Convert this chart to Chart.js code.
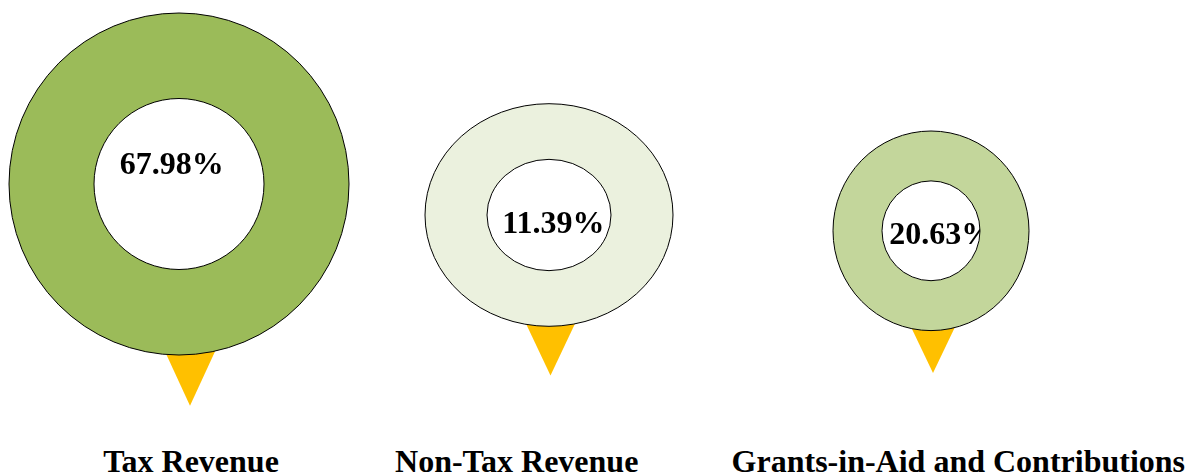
<!DOCTYPE html>
<html>
<head>
<meta charset="utf-8">
<script src="https://cdn.jsdelivr.net/npm/chart.js@4/dist/chart.umd.min.js"></script>
<style>
  html, body { margin: 0; padding: 0; background: #fff; }
  #stage { position: relative; width: 1190px; height: 475px; overflow: hidden; }
  #stage canvas { position: absolute; }
  .lbl {
    position: absolute; width: 600px; text-align: center; white-space: nowrap;
    font: bold 32px "Liberation Serif", "Times New Roman", serif; line-height: 32px; color: #000;
  }
</style>
</head>
<body>
<div id="stage"></div>
<script>
// revenue composition, share of total (%)
const categories = ['Tax Revenue', 'Non-Tax Revenue', 'Grants-in-Aid and Contributions'];
const shares = [67.98, 11.39, 20.63];

const ringColors = ['#9BBB59', '#EBF1DE', '#C3D69B'];
const pinColor = '#FFC000';
const FONT = 'bold 32px "Liberation Serif", "Times New Roman", serif';

// layout of each ring: centre, radii, text offset, pin under the ring
const rings = [
  { cx: 179,   cy: 184.3, rx: 170, ry: 171,   tx: -7.3, ty: -10.3, pinDx: 11,  pinHw: 23.4, pinDepth: 50.7, labelX: 191 },
  { cx: 549.3, cy: 215.3, rx: 124, ry: 111.3, tx: 4.4,  ty: 18,    pinDx: 1.5, pinHw: 23.3, pinDepth: 49.3, labelX: 516.7 },
  { cx: 931.2, cy: 231.2, rx: 98,  ry: 99.8,  tx: 10.3, ty: 12.8,  pinDx: 2,   pinHw: 20.3, pinDepth: 42.3, labelX: 958.3 },
];

const stage = document.getElementById('stage');

// squashes the round doughnut into an ellipse, adds pin, value text and outline
const ringPlugin = {
  id: 'ring',
  beforeDatasetsDraw(chart, args, opts) {
    const arc = chart.getDatasetMeta(0).data[0];
    const { ctx } = chart;
    const r = opts.ring;
    const yb = arc.y + r.ry;
    const k = (r.pinDepth + 14) / r.pinDepth;
    ctx.save();
    ctx.fillStyle = pinColor;
    ctx.beginPath();
    ctx.moveTo(arc.x + r.pinDx - r.pinHw * k, yb - 14);
    ctx.lineTo(arc.x + r.pinDx + r.pinHw * k, yb - 14);
    ctx.lineTo(arc.x + r.pinDx, yb + r.pinDepth);
    ctx.closePath();
    ctx.fill();
    ctx.fillStyle = '#000';
    ctx.font = FONT;
    ctx.textAlign = 'center';
    ctx.textBaseline = 'alphabetic';
    ctx.fillText(opts.text, arc.x + r.tx, arc.y + r.ty);
    ctx.restore();
  },
  beforeDatasetDraw(chart, args, opts) {
    const arc = chart.getDatasetMeta(0).data[0];
    const { ctx } = chart;
    const sy = opts.ring.ry / arc.outerRadius;
    ctx.save();
    ctx.translate(arc.x, arc.y);
    ctx.scale(1, sy);
    ctx.translate(-arc.x, -arc.y);
  },
  afterDatasetDraw(chart, args, opts) {
    const arc = chart.getDatasetMeta(0).data[0];
    const { ctx } = chart;
    ctx.restore();
    const sy = opts.ring.ry / arc.outerRadius;
    ctx.save();
    ctx.strokeStyle = '#000';
    ctx.lineWidth = 1;
    [arc.outerRadius, arc.innerRadius].forEach(rad => {
      ctx.beginPath();
      ctx.ellipse(arc.x, arc.y, rad, rad * sy, 0, 0, Math.PI * 2);
      ctx.stroke();
    });
    ctx.restore();
  },
};

rings.forEach((r, i) => {
  const R = r.rx;
  const left = r.cx - R - 2;
  const top = r.cy - Math.max(R, r.ry) - 2;
  const width = 2 * R + 4;
  const height = Math.ceil(r.cy + r.ry + r.pinDepth + 4 - top);
  const padTop = (r.cy - R) - top;

  const canvas = document.createElement('canvas');
  canvas.width = width;
  canvas.height = height;
  canvas.style.left = left + 'px';
  canvas.style.top = top + 'px';
  canvas.style.width = width + 'px';
  canvas.style.height = height + 'px';
  stage.appendChild(canvas);

  new Chart(canvas, {
    type: 'doughnut',
    data: {
      labels: [categories[i]],
      datasets: [{
        data: [shares[i]],
        backgroundColor: ringColors[i],
        borderWidth: 0,
      }],
    },
    options: {
      responsive: false,
      devicePixelRatio: 1,
      animation: false,
      cutout: '50%',
      layout: { padding: { left: 2, right: 2, top: padTop, bottom: height - padTop - 2 * R } },
      plugins: {
        legend: { display: false },
        tooltip: { enabled: false },
        ring: { ring: r, text: shares[i].toFixed(2) + '%' },
      },
    },
    plugins: [ringPlugin],
  });

  const lbl = document.createElement('div');
  lbl.className = 'lbl';
  lbl.textContent = categories[i];
  lbl.style.left = (r.labelX - 300) + 'px';
  lbl.style.top = '444.9px';
  stage.appendChild(lbl);
});
</script>
</body>
</html>
